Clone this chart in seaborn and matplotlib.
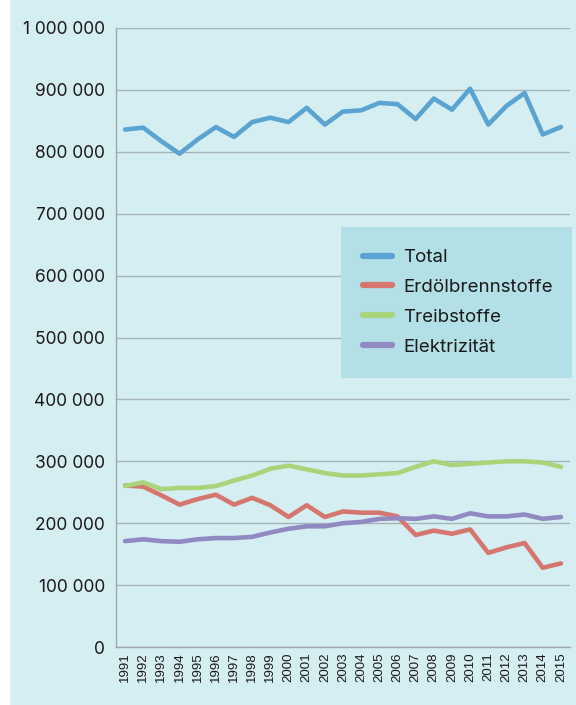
import numpy as np
import pandas as pd
import seaborn as sns
import matplotlib.pyplot as plt
from matplotlib.patches import Rectangle
from matplotlib.ticker import FuncFormatter, MultipleLocator

# Daten
jahre = list(range(1991, 2016))

total = [836000, 839000, 817000, 797000, 820000, 840000, 824000, 848000, 855000, 848000,
         871000, 844000, 865000, 867000, 879000, 877000, 853000, 886000, 868000, 902000,
         844000, 874000, 895000, 828000, 840000]

erdoel = [261000, 259000, 245000, 230000, 239000, 246000, 230000, 241000, 229000, 210000,
          229000, 210000, 219000, 217000, 217000, 211000, 181000, 188000, 183000, 190000,
          152000, 161000, 168000, 128000, 135000]

treib = [260000, 266000, 255000, 257000, 257000, 260000, 269000, 277000, 288000, 293000,
         287000, 281000, 277000, 277000, 279000, 281000, 291000, 300000, 294000, 296000,
         298000, 300000, 300000, 298000, 291000]

strom = [171000, 174000, 171000, 170000, 174000, 176000, 176000, 178000, 185000, 191000,
         195000, 195000, 200000, 202000, 207000, 208000, 207000, 211000, 207000, 216000,
         211000, 211000, 214000, 207000, 210000]

serien = ["Total", "Erdölbrennstoffe", "Treibstoffe", "Elektrizität"]
farben = ["#5ba4d2", "#d5776e", "#a9d47a", "#9189c2"]

df = pd.DataFrame({
    "jahr": [str(j) for j in jahre] * 4,
    "pos": list(range(len(jahre))) * 4,
    "wert": total + erdoel + treib + strom,
    "serie": [s for s in serien for _ in jahre],
})

bg = "#d5eef2"
sns.set_theme(style="white")
plt.rcParams["font.family"] = ["Inter", "DejaVu Sans"]

fig = plt.figure(figsize=(5.76, 7.05), dpi=100, facecolor="white")
fig.patches.append(Rectangle((10 / 576, 0), 1, 1, transform=fig.transFigure,
                             facecolor=bg, edgecolor="none", zorder=-10))
ax = fig.add_axes([116 / 576, 1 - 647 / 705, (570 - 116) / 576, (647 - 28) / 705])
ax.set_facecolor(bg)

sns.lineplot(data=df, x="pos", y="wert", hue="serie", hue_order=serien,
             palette=farben, linewidth=3.3, ax=ax, legend=True)

ax.set_xlim(-0.5, len(jahre) - 0.5)
ax.set_ylim(0, 1000000)
ax.yaxis.set_major_locator(MultipleLocator(100000))
ax.yaxis.set_major_formatter(FuncFormatter(lambda v, p: f"{int(v):,}".replace(",", " ")))
ax.grid(axis="y", color="#a6b3b7", linewidth=1)
ax.set_axisbelow(True)

ax.set_xticks(range(len(jahre)))
ax.set_xticklabels([str(j) for j in jahre], rotation=90, fontsize=9.5,
                   family=["Liberation Sans", "DejaVu Sans"], color="#1a1a1a")
ax.set_xticks(np.arange(-0.5, len(jahre)), minor=True)
ax.tick_params(axis="x", which="major", length=0, pad=4)
ax.tick_params(axis="x", which="minor", length=5, color="#a0a8ab", width=1)
ax.tick_params(axis="y", length=5, color="#a0a8ab", width=1, labelsize=12.5,
               labelcolor="#1a1a1a", pad=3)
for s in ["top", "right"]:
    ax.spines[s].set_visible(False)
for s in ["left", "bottom"]:
    ax.spines[s].set_color("#a0a8ab")
    ax.spines[s].set_linewidth(1)
ax.set_xlabel("")
ax.set_ylabel("")

leg = ax.legend(loc="upper left", mode="expand",
                bbox_to_anchor=(341 / 576, 1 - 378 / 705, 231 / 576, 151 / 705),
                bbox_transform=fig.transFigure, frameon=True, fancybox=False,
                facecolor="#b3e0e6", edgecolor="none", framealpha=1,
                fontsize=13.5, handlelength=1.55, handletextpad=0.62,
                labelspacing=0.68, borderpad=1.17, borderaxespad=0)
for h in leg.get_lines():
    h.set_linewidth(4.5)
for t in leg.get_texts():
    t.set_color("#1a1a1a")

fig.savefig("out.png", dpi=100, facecolor=fig.get_facecolor())
